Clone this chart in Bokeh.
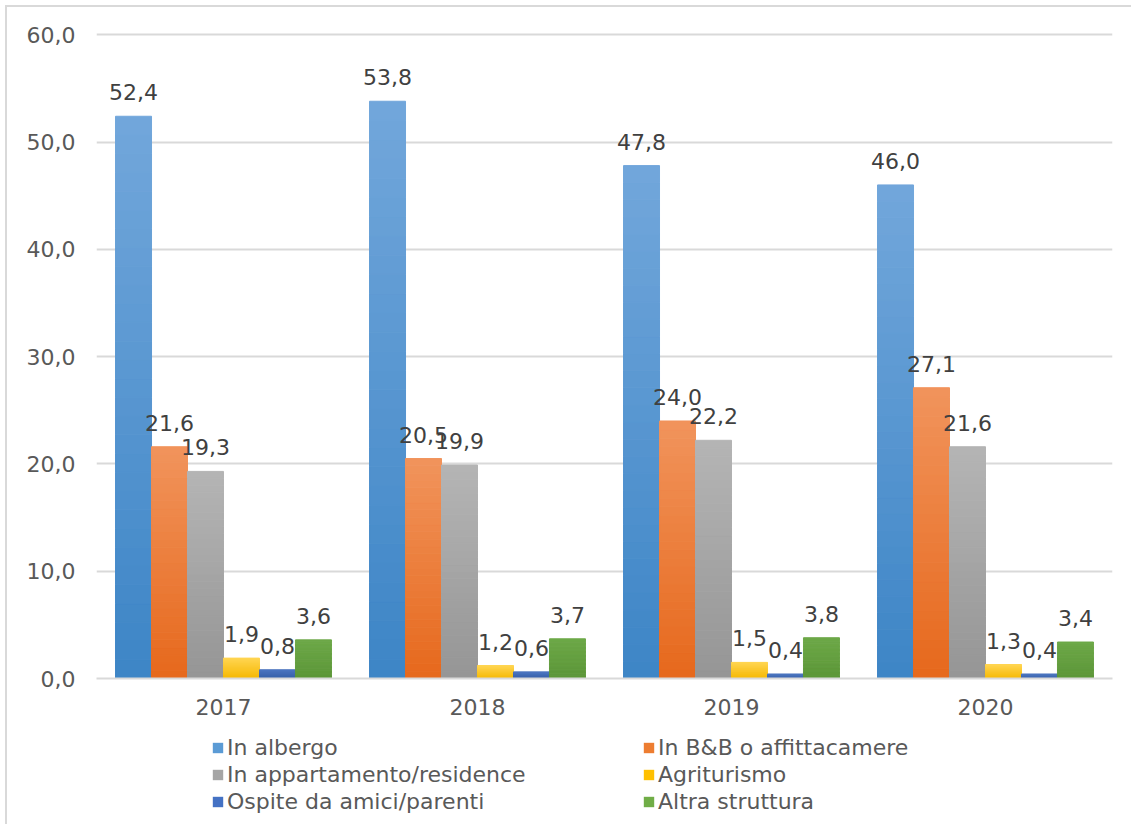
from bokeh.plotting import figure
from bokeh.layouts import column
from bokeh.models import (ColumnDataSource, FactorRange, Range1d, FixedTicker,
                          Legend, LegendItem)
from bokeh.transform import dodge
from bokeh.core.properties import value
from bokeh.embed import file_html
from bokeh.resources import INLINE

years = ["2017", "2018", "2019", "2020"]
series_names = ["In albergo", "In B&B o affittacamere", "In appartamento/residence",
                "Agriturismo", "Ospite da amici/parenti", "Altra struttura"]
in_albergo = [52.4, 53.8, 47.8, 46.0]
in_bb = [21.6, 20.5, 24.0, 27.1]
in_appartamento = [19.3, 19.9, 22.2, 21.6]
agriturismo = [1.9, 1.2, 1.5, 1.3]
ospite = [0.8, 0.6, 0.4, 0.4]
altra = [3.6, 3.7, 3.8, 3.4]
series_values = [in_albergo, in_bb, in_appartamento, agriturismo, ospite, altra]
y_ticks = [0, 10, 20, 30, 40, 50, 60]

# (bottom colour, top colour, legend colour)
palette = [
    ((0x3d, 0x85, 0xc6), (0x72, 0xa7, 0xdb), "#5b9bd5"),
    ((0xe6, 0x68, 0x1c), (0xf1, 0x94, 0x5c), "#ed7d31"),
    ((0x95, 0x95, 0x95), (0xb5, 0xb5, 0xb5), "#a5a5a5"),
    ((0xf5, 0xb8, 0x00), (0xff, 0xd4, 0x50), "#ffc000"),
    ((0x36, 0x5e, 0xa6), (0x4b, 0x74, 0xbf), "#4472c4"),
    ((0x5c, 0x96, 0x38), (0x6d, 0xa8, 0x48), "#70ad47"),
]

FONT = "DejaVu Sans"
BAR_W = 0.1417
N_SLICES = 30
W = 1124

p = figure(x_range=FactorRange(*years, range_padding=0), y_range=Range1d(0, 60.3),
           width=W, height=716, output_backend="svg", toolbar_location=None,
           min_border_left=89, min_border_right=19, min_border_top=24,
           min_border_bottom=45)
p.outline_line_color = None
p.background_fill_color = "white"
p.border_fill_color = "white"

def mix(c0, c1, t):
    return "#%02x%02x%02x" % tuple(int(round(a + (b - a) * t)) for a, b in zip(c0, c1))

lf = figure(width=W, height=101, output_backend="svg", toolbar_location=None,
            x_range=Range1d(0, 1), y_range=Range1d(0, 1),
            x_axis_location=None, y_axis_location=None,
            min_border_left=0, min_border_right=0, min_border_top=0, min_border_bottom=0)
lf.grid.visible = False
lf.outline_line_color = None
lf.border_fill_color = "white"
lf.background_fill_color = "white"

legend_items = []
for i, (name, vals, (c0, c1, cl)) in enumerate(zip(series_names, series_values, palette)):
    off = (i - 2.5) * BAR_W
    xs, bots, tops, cols = [], [], [], []
    for yr, v in zip(years, vals):
        for k in range(N_SLICES):
            xs.append(yr)
            bots.append(v * k / N_SLICES)
            tops.append(v * (k + 1) / N_SLICES)
            cols.append(mix(c0, c1, (k + 0.5) / N_SLICES))
    src = ColumnDataSource(dict(x=xs, bottom=bots, top=tops, color=cols))
    p.vbar(x=dodge("x", off, range=p.x_range), bottom="bottom", top="top",
           width=BAR_W, fill_color="color", line_color="color", line_width=1, source=src)
    lsrc = ColumnDataSource(dict(x=years, top=vals,
                                 lab=[f"{v:.1f}".replace(".", ",") for v in vals]))
    p.text(x=dodge("x", off, range=p.x_range), y="top", text="lab", source=lsrc,
           text_align="center", text_baseline="alphabetic", y_offset=-24,
           text_font=value(FONT), text_font_size="22px", text_color="#404040")
    # legend swatch: a zero-height bar, so only the legend shows its colour
    dummy = lf.vbar(x=[0.5], bottom=[0], top=[0], width=0, fill_color=cl, line_color=None)
    legend_items.append(LegendItem(label=name, renderers=[dummy]))

# Bokeh fills legend columns first: reorder so that rows read pairwise
legend_items = legend_items[0::2] + legend_items[1::2]

p.xgrid.grid_line_color = None
p.ygrid.grid_line_color = "#d9d9d9"
p.ygrid.grid_line_width = 2
p.yaxis.ticker = FixedTicker(ticks=y_ticks)
p.yaxis.major_label_overrides = {t: f"{t:.1f}".replace(".", ",") for t in y_ticks}
p.yaxis.axis_line_color = None
p.yaxis.major_tick_line_color = None
p.yaxis.minor_tick_line_color = None
p.yaxis.major_tick_out = 0
p.yaxis.major_tick_in = 0
p.yaxis.major_label_standoff = 21
p.yaxis.major_label_text_font = FONT
p.yaxis.major_label_text_font_size = "22px"
p.yaxis.major_label_text_color = "#595959"

p.xaxis.axis_line_color = "#d9d9d9"
p.xaxis.axis_line_width = 2
p.xaxis.major_tick_line_color = None
p.xaxis.minor_tick_line_color = None
p.xaxis.major_label_standoff = 14
p.xaxis.major_label_text_font = FONT
p.xaxis.major_label_text_font_size = "22px"
p.xaxis.major_label_text_color = "#595959"

legend = Legend(items=legend_items, ncols=2, location=(115, 10),
                glyph_width=13, glyph_height=13, label_standoff=3,
                label_width=413, label_height=22, spacing=2, padding=0, margin=0,
                label_text_font=FONT,
                label_text_font_size="22px", label_text_color="#595959",
                border_line_color=None, background_fill_alpha=0)
lf.add_layout(legend, "center")

layout = column(p, lf, spacing=0,
                styles={"margin-left": "5px", "margin-top": "5px",
                        "border-left": "2px solid #d9d9d9",
                        "border-top": "2px solid #d9d9d9"})

open("out.html", "w").write(file_html(layout, INLINE))
